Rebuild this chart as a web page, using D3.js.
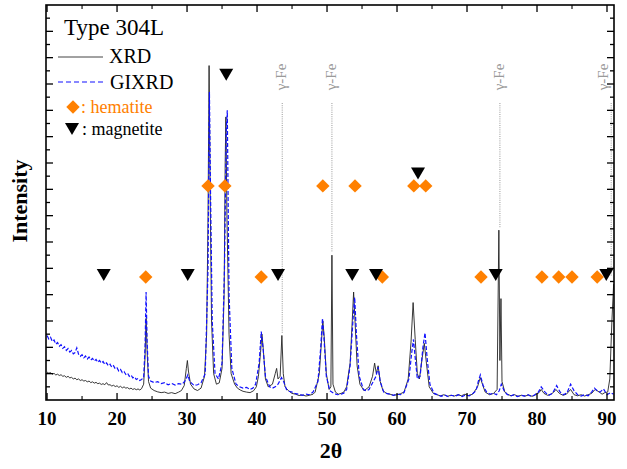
<!DOCTYPE html>
<html><head><meta charset="utf-8">
<script src="https://cdn.jsdelivr.net/npm/d3@7"></script>
<style>html,body{margin:0;padding:0;background:#fff;}svg{display:block;font-family:"Liberation Serif","Times New Roman",serif;}</style>
</head><body>
<svg id="c" width="627" height="469"></svg>
<script>
// ---- data: [2θ, intensity (arb. units)] ----
const xrdData = [
[10.0,1.06],[10.25,1.02],[10.5,1.04],[10.75,0.98],[11.0,1.01],[11.25,0.95],[11.5,0.98],[11.75,0.93],[12.0,0.96],[12.25,0.90],[12.5,0.92],[12.75,0.86],[13.0,0.90],[13.25,0.84],[13.5,0.86],[13.75,0.80],[14.0,0.83],[14.25,0.77],[14.5,0.80],[14.75,0.74],[15.0,0.77],[15.25,0.72],[15.5,0.74],[15.75,0.69],[16.0,0.72],[16.25,0.66],[16.5,0.69],[16.75,0.64],[17.0,0.67],[17.25,0.62],[17.5,0.64],[17.75,0.59],[18.0,0.62],[18.25,0.58],[18.5,0.66],[18.75,0.57],[19.0,0.58],[19.25,0.53],[19.5,0.56],[19.75,0.51],[20.0,0.54],[20.25,0.48],[20.5,0.52],[20.75,0.46],[21.0,0.50],[21.25,0.45],[21.5,0.47],[21.75,0.42],[22.0,0.45],[22.25,0.40],[22.5,0.43],[22.75,0.39],[23.0,0.42],[23.25,0.38],[23.5,0.43],
[23.8,0.60],[24.0,1.6],[24.15,3.1],[24.3,1.8],[24.5,0.7],[24.8,0.45],[25.3,0.36],[25.8,0.31],[26.3,0.28],[26.8,0.30],[27.3,0.25],[27.8,0.28],[28.3,0.24],[28.8,0.30],[29.2,0.36],[29.6,0.55],[29.9,1.2],[30.05,1.5],[30.2,1.1],[30.5,0.6],[31.0,0.42],[31.5,0.36],[32.0,0.45],[32.5,0.9],[32.8,2.5],[33.0,7.0],[33.15,12.7],[33.3,8.0],[33.5,3.0],[33.8,1.0],[34.2,0.6],[34.6,0.65],[35.0,1.2],[35.3,4.0],[35.45,9.0],[35.55,10.75],[35.7,7.0],[36.0,2.5],[36.3,1.0],[36.8,0.6],[37.2,0.45],[37.6,0.38],[38.0,0.33],[38.5,0.30],[39.0,0.28],[39.5,0.35],[39.9,0.5],[40.2,0.9],[40.5,1.8],[40.7,2.5],[40.9,1.9],[41.2,0.8],[41.6,0.5],[42.2,0.6],[42.6,1.0],[42.8,1.2],[43.0,0.8],[43.3,0.9],[43.55,2.45],[43.75,1.0],[44.0,0.5],[44.5,0.35],[45.0,0.25],[45.5,0.22],[46.0,0.17],[46.5,0.19],[47.0,0.15],[47.5,0.18],[48.0,0.22],[48.3,0.3],[48.9,1.0],[49.2,2.2],[49.4,3.0],[49.6,2.4],[49.9,1.0],[50.3,0.4],[50.55,0.5],[50.7,5.5],[50.85,0.6],[51.2,0.3],[51.6,0.22],[52.0,0.25],[52.4,0.3],[52.8,0.5],[53.3,1.4],[53.6,3.0],[53.8,4.1],[54.0,3.0],[54.3,1.3],[54.7,0.6],[55.3,0.35],[56.0,0.5],[56.5,0.9],[56.8,1.4],[57.05,1.0],[57.3,1.3],[57.6,0.7],[58.0,0.35],[58.5,0.25],[59.0,0.22],[59.5,0.18],[60.0,0.2],[60.5,0.24],[61.0,0.3],[61.6,0.8],[62.0,2.2],[62.3,3.7],[62.6,2.3],[62.9,1.0],[63.2,0.8],[63.6,1.6],[63.9,2.15],[64.2,1.4],[64.6,0.5],
[65.2,0.25],[65.7,0.2],[66.2,0.16],[66.7,0.2],[67.2,0.14],[67.7,0.18],[68.2,0.15],[68.7,0.2],[69.2,0.16],[69.7,0.22],[70.2,0.17],[70.8,0.22],[71.5,0.5],[71.9,0.85],[72.2,0.6],[72.6,0.3],[73.2,0.2],[73.8,0.25],[74.3,0.4],[74.55,6.45],[74.7,1.5],[74.85,3.85],[75.0,0.7],[75.4,0.3],[75.8,0.22],[76.3,0.16],[76.8,0.2],[77.3,0.14],[77.8,0.18],[78.3,0.15],[78.8,0.19],[79.3,0.14],[79.8,0.2],[80.3,0.28],[80.6,0.4],[81.0,0.25],[81.5,0.18],[82.0,0.22],[82.4,0.3],[82.7,0.4],[83.2,0.25],[83.7,0.18],[84.2,0.22],[84.8,0.4],[85.3,0.2],[85.8,0.16],[86.3,0.2],[86.8,0.15],[87.3,0.2],[87.8,0.25],[88.3,0.4],[88.9,0.3],[89.3,0.22],[89.7,0.28],[90.1,0.3],[90.4,0.8],[90.7,3.0],[90.95,4.4]];

const gixData = [
[10.0,2.45],[10.25,2.32],[10.5,2.38],[10.75,2.22],[11.0,2.28],[11.25,2.12],[11.5,2.18],[11.75,2.04],[12.0,2.10],[12.25,1.96],[12.5,2.02],[12.75,1.88],[13.0,1.95],[13.25,1.82],[13.5,1.88],[13.75,1.75],[14.0,1.80],[14.25,1.98],[14.5,1.74],[14.75,1.66],[15.0,1.72],[15.25,1.60],[15.5,1.67],[15.75,1.56],[16.0,1.63],[16.25,1.52],[16.5,1.58],[16.75,1.48],[17.0,1.54],[17.25,1.43],[17.5,1.50],[17.75,1.40],[18.0,1.46],[18.25,1.35],[18.5,1.41],[18.75,1.30],[19.0,1.36],[19.25,1.24],[19.5,1.30],[19.75,1.18],[20.0,1.22],[20.25,1.10],[20.5,1.16],[20.75,1.04],[21.0,1.08],[21.25,0.97],[21.5,1.02],[21.75,0.90],[22.0,0.95],[22.25,0.84],[22.5,0.88],[22.75,0.78],[23.0,0.82],[23.25,0.74],[23.5,0.78],
[23.8,0.85],[24.0,2.0],[24.15,4.1],[24.3,2.2],[24.5,0.9],[24.8,0.72],[25.3,0.66],[25.8,0.70],[26.3,0.62],[26.8,0.66],[27.3,0.58],[27.8,0.63],[28.3,0.57],[28.8,0.62],[29.3,0.60],[29.8,0.75],[30.1,0.95],[30.4,0.70],[31.0,0.55],[31.5,0.58],[32.0,0.65],[32.6,1.0],[33.0,5.0],[33.2,11.7],[33.35,8.0],[33.6,3.0],[34.0,1.0],[34.5,0.8],[35.0,1.4],[35.35,5.0],[35.6,10.2],[35.75,11.0],[36.0,4.0],[36.4,1.2],[37.0,0.6],[37.5,0.5],[38.0,0.45],[38.5,0.48],[39.0,0.40],[39.4,0.45],[39.8,0.6],[40.3,1.4],[40.6,2.6],[40.85,2.0],[41.2,0.9],[41.8,0.5],[42.2,0.45],[42.6,0.5],[43.0,0.6],[43.5,0.85],[43.8,0.7],[44.2,0.4],[44.6,0.33],[45.0,0.3],[45.5,0.24],[46.0,0.22],[46.5,0.18],[47.0,0.22],[47.5,0.2],[48.0,0.3],[48.7,0.7],[49.1,2.0],[49.35,3.1],[49.6,2.2],[49.9,0.9],[50.4,0.35],[51.0,0.25],[51.5,0.2],[52.0,0.22],[52.4,0.26],[52.8,0.4],[53.3,1.3],[53.7,3.0],[53.95,3.9],[54.2,2.5],[54.6,0.9],[55.2,0.4],[55.6,0.35],[56.0,0.4],[56.6,0.7],[57.0,0.9],[57.3,1.25],[57.6,0.7],[58.1,0.3],[58.6,0.24],[59.0,0.22],[59.5,0.18],[60.0,0.22],[60.5,0.2],[61.0,0.28],[61.7,0.8],[62.1,1.8],[62.35,2.3],[62.6,1.6],[62.9,0.8],[63.3,0.9],[63.7,2.0],[64.0,2.55],[64.3,1.6],[64.7,0.6],
[65.3,0.25],[65.8,0.2],[66.3,0.14],[66.8,0.19],[67.3,0.13],[67.8,0.18],[68.3,0.14],[68.8,0.2],[69.3,0.13],[69.8,0.19],[70.3,0.16],[70.8,0.24],[71.3,0.35],[71.6,0.7],[71.9,0.95],[72.3,0.55],[72.8,0.3],[73.3,0.22],[73.8,0.26],[74.2,0.2],[74.6,0.35],[74.9,0.6],[75.3,0.35],[75.7,0.22],[76.2,0.15],[76.7,0.2],[77.2,0.13],[77.7,0.18],[78.2,0.15],[78.7,0.2],[79.2,0.13],[79.7,0.2],[80.2,0.3],[80.6,0.5],[81.2,0.28],[81.7,0.18],[82.2,0.25],[82.8,0.55],[83.3,0.3],[83.8,0.2],[84.3,0.28],[84.8,0.6],[85.3,0.35],[85.8,0.2],[86.3,0.15],[86.8,0.2],[87.3,0.16],[87.8,0.3],[88.2,0.45],[88.6,0.35],[89.0,0.3],[89.5,0.42],[90.0,0.2],[90.5,0.28],[90.95,0.22]];

const hematiteTheta = [24.1,33.0,35.4,40.6,49.4,54.0,57.9,62.4,64.1,72.0,80.7,83.1,85.0,88.6];
const hematiteLevel = [4.67,8.13,8.13,4.67,8.13,8.13,4.67,8.13,8.13,4.67,4.67,4.67,4.67,4.67];
const magnetiteTheta = [18.1,30.1,35.6,43.0,53.6,57.0,63.0,74.1,89.9];
const magnetiteLevel = [4.75,4.75,12.35,4.75,4.75,4.75,8.6,4.75,4.75];
const gammaTheta = [43.6,50.7,74.7,90.6];
const gammaLabelTheta = [43.6,50.7,74.7,89.6];
const gammaLineEnd = [2.55,5.6,6.55,4.7];
const gammaLabel = "γ-Fe";

const xTickLabels = ["10","20","30","40","50","60","70","80","90"];
const xMajorTicks = [10,20,30,40,50,60,70,80,90];
const xMinorTicks = [15,25,35,45,55,65,75,85];
const seriesNames = ["XRD","GIXRD"];
const markerNames = [": hematite",": magnetite"];

// ---- drawing ----
const svg = d3.select("#c");
const L=46,R=614,T=5,B=400;
const x = d3.scaleLinear().domain([9.85,91]).range([L,R]);
const y = d3.scaleLinear().domain([0,15]).range([B,T]);
const orange="#ff8000", blue="#1010ff";

svg.append("defs").append("clipPath").attr("id","clip")
  .append("rect").attr("x",L).attr("y",T).attr("width",R-L).attr("height",B-T);

const g = svg.append("g");
const line = d3.line().x(d=>x(d[0])).y(d=>y(d[1]));

// gamma-Fe dotted lines and labels
gammaTheta.forEach((t,i)=>{
  g.append("line").attr("x1",x(t)).attr("x2",x(t)).attr("y1",103).attr("y2",y(gammaLineEnd[i]))
    .attr("stroke","#999").attr("stroke-width",1).attr("stroke-dasharray","1,1.2");
  g.append("text").attr("transform",`translate(${x(gammaLabelTheta[i])+4},${77}) rotate(-90)`)
    .attr("text-anchor","middle").attr("font-size",15).attr("fill","#9a9a9a").text(gammaLabel);
});

const plot = g.append("g").attr("clip-path","url(#clip)");
plot.append("path").datum(xrdData).attr("d",line)
  .attr("fill","none").attr("stroke","#222").attr("stroke-width",0.9);
plot.append("path").datum(gixData).attr("d",line)
  .attr("fill","none").attr("stroke",blue).attr("stroke-width",1.2).attr("stroke-dasharray","4,2");

// markers
const diamond = d3.symbol().type(d3.symbolSquare).size(90);
hematiteTheta.forEach((t,i)=>{
  g.append("path").attr("d",diamond()).attr("fill",orange)
    .attr("transform",`translate(${x(t)},${y(hematiteLevel[i])}) rotate(45)`);
});
function tri(cx,cy){ return `M${cx-7},${cy-6}L${cx+7},${cy-6}L${cx},${cy+6}Z`; }
magnetiteTheta.forEach((t,i)=>{
  g.append("path").attr("d",tri(x(t),y(magnetiteLevel[i]))).attr("fill","#000");
});

// frame and ticks
const ax = svg.append("g").attr("stroke","#000");
ax.append("rect").attr("x",L).attr("y",T).attr("width",R-L).attr("height",B-T)
  .attr("fill","none").attr("stroke-width",1.6);
xMajorTicks.forEach(v=>{
  ax.append("line").attr("x1",x(v)).attr("x2",x(v)).attr("y1",B).attr("y2",B-7).attr("stroke-width",1.3);
  ax.append("line").attr("x1",x(v)).attr("x2",x(v)).attr("y1",T).attr("y2",T+7).attr("stroke-width",1.3);
});
xMinorTicks.forEach(v=>{
  ax.append("line").attr("x1",x(v)).attr("x2",x(v)).attr("y1",B).attr("y2",B-4).attr("stroke-width",1.1);
  ax.append("line").attr("x1",x(v)).attr("x2",x(v)).attr("y1",T).attr("y2",T+4).attr("stroke-width",1.1);
});
d3.range(0.5,15,0.5).forEach(v=>{
  const major = Math.abs(v-Math.round(v))<1e-6;
  const len = major?7:4;
  ax.append("line").attr("x1",L).attr("x2",L+len).attr("y1",y(v)).attr("y2",y(v)).attr("stroke-width",1.3);
  ax.append("line").attr("x1",R).attr("x2",R-len).attr("y1",y(v)).attr("y2",y(v)).attr("stroke-width",1.3);
});
xMajorTicks.forEach((v,i)=>{
  svg.append("text").attr("x",x(v)).attr("y",425).attr("text-anchor","middle")
    .attr("font-size",19).attr("font-weight","bold").text(xTickLabels[i]);
});
svg.append("text").attr("x",331).attr("y",458).attr("text-anchor","middle")
  .attr("font-size",22).attr("font-weight","bold").text("2θ");
svg.append("text").attr("transform","translate(27,201) rotate(-90)").attr("text-anchor","middle")
  .attr("font-size",22).attr("font-weight","bold").text("Intensity");

// legend
svg.append("text").attr("x",64).attr("y",35).attr("font-size",23).text("Type 304L");
svg.append("line").attr("x1",58).attr("x2",103).attr("y1",57).attr("y2",57).attr("stroke","#444").attr("stroke-width",1);
svg.append("text").attr("x",109).attr("y",63).attr("font-size",20).text(seriesNames[0]);
svg.append("line").attr("x1",58).attr("x2",103).attr("y1",82).attr("y2",82).attr("stroke",blue).attr("stroke-width",1.2).attr("stroke-dasharray","5,3");
svg.append("text").attr("x",110).attr("y",89).attr("font-size",20).text(seriesNames[1]);
svg.append("path").attr("d",diamond()).attr("fill",orange).attr("transform","translate(73,107) rotate(45)");
svg.append("text").attr("x",81).attr("y",113).attr("font-size",18).attr("fill",orange).text(markerNames[0]);
svg.append("path").attr("d",tri(72,129)).attr("fill","#000");
svg.append("text").attr("x",82).attr("y",135).attr("font-size",18).text(markerNames[1]);
</script>
</body></html>
